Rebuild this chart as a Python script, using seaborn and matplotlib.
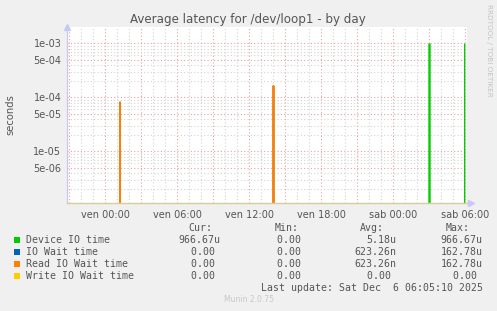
import numpy as np
import pandas as pd
import matplotlib
matplotlib.use("Agg")
import matplotlib.pyplot as plt
from matplotlib.patches import Rectangle
from matplotlib.ticker import FixedLocator, FuncFormatter
import seaborn as sns

# ---- data (hours relative to Fri 00:00, values in seconds) ----
series_names = ["Device IO time", "IO Wait time", "Read IO Wait time", "Write IO Wait time"]
series_colors = ["#00cc00", "#0066b3", "#ff8000", "#ffcc00"]

device_hours = [-3.17, 1.17, 1.25, 1.33, 26.92, 27.0, 27.08, 27.17, 29.88, 29.97]
device_vals = [0, 0, 82e-6, 0, 0, 966.67e-6, 966.67e-6, 0, 0, 966.67e-6]

iowait_hours = [-3.17, 1.17, 1.25, 1.33, 13.96, 14.04, 14.17, 29.97]
iowait_vals = [0, 0, 79e-6, 0, 0, 162.78e-6, 0, 0]

read_hours = [-3.17, 1.17, 1.25, 1.33, 13.96, 14.04, 14.17, 29.97]
read_vals = [0, 0, 79e-6, 0, 0, 162.78e-6, 0, 0]

write_hours = [-3.17, 29.97]
write_vals = [0, 0]

tick_hours = [0, 6, 12, 18, 24, 30]
tick_labels = ["ven 00:00", "ven 06:00", "ven 12:00", "ven 18:00", "sab 00:00", "sab 06:00"]

legend_cur = ["966.67u", "0.00 ", "0.00 ", "0.00 "]
legend_min = ["0.00 ", "0.00 ", "0.00 ", "0.00 "]
legend_avg = ["5.18u", "623.26n", "623.26n", "0.00 "]
legend_max = ["966.67u", "162.78u", "162.78u", "0.00 "]

# ---- build table ----
frames = []
for name, h, v in zip(series_names,
                      [device_hours, iowait_hours, read_hours, write_hours],
                      [device_vals, iowait_vals, read_vals, write_vals]):
    frames.append(pd.DataFrame({"hours": h, "seconds": v, "series": name}))
df = pd.concat(frames, ignore_index=True)

W, H = 497, 311
def fx(x):
    return x / W
def fy(y):
    return 1 - y / H

sns.set_style("white")
plt.rcParams["font.family"] = ["DejaVu Sans"]

fig = plt.figure(figsize=(W / 100, H / 100), dpi=100, facecolor="#f0f0f0")
ax = fig.add_axes([fx(67), fy(203), fx(466.7) - fx(67), fy(27.3) - fy(203)])
ax.set_facecolor("white")

sns.lineplot(data=df, x="hours", y="seconds", hue="series", hue_order=series_names,
             palette=dict(zip(series_names, series_colors)), estimator=None, sort=False,
             legend=False, linewidth=1.0, ax=ax)
# read IO line slightly wider so it covers the identical IO wait line
for ln in ax.lines:
    if matplotlib.colors.to_hex(ln.get_color()) == "#ff8000":
        ln.set_linewidth(1.3)

ax.set_yscale("log")
ax.set_xlim(-3.167, 30.14)
ax.set_ylim(1.104e-6, 1.977e-3)

# x ticks: major every 3h (red grid), minor every hour (gray grid)
major_x = np.arange(-3, 31, 3)
ax.xaxis.set_major_locator(FixedLocator(major_x))
lab_map = dict(zip(tick_hours, tick_labels))
ax.xaxis.set_major_formatter(FuncFormatter(lambda v, p: lab_map.get(int(round(v)), "")))
ax.xaxis.set_minor_locator(FixedLocator(np.arange(-3, 31, 1)))

# y ticks: 1 and 5 per decade major, others minor
decades = [1e-6, 1e-5, 1e-4, 1e-3]
major_y = [d * m for d in decades for m in (1, 5)]
minor_y = [d * m for d in decades for m in (2, 3, 4, 6, 7, 8, 9)]
ax.yaxis.set_major_locator(FixedLocator(major_y))
ax.yaxis.set_minor_locator(FixedLocator(minor_y))
ax.yaxis.set_major_formatter(FuncFormatter(lambda v, p: "{:.0e}".format(v)))
ax.yaxis.set_minor_formatter(FuncFormatter(lambda v, p: ""))

ax.set_axisbelow(True)
ax.grid(which="major", color="#eaa0a0", linestyle=(0, (1, 2)), linewidth=0.8)
ax.grid(which="minor", color="#d4d4d4", linestyle=(0, (1, 2)), linewidth=0.8)

ax.tick_params(axis="both", which="major", direction="inout", length=4, width=0.8,
               color="#e88080", labelsize=7, labelcolor="#555555", pad=2)
ax.tick_params(axis="both", which="minor", direction="inout", length=3, width=0.8,
               color="#bbbbbb")
ax.tick_params(axis="x", which="major", pad=3)
ax.set_xlabel("")
ax.set_ylabel("")

for s in ["top", "right"]:
    ax.spines[s].set_visible(False)
ax.spines["left"].set_color("#c8c8f0")
ax.spines["left"].set_linewidth(0.9)
ax.spines["bottom"].set_color("#d8cc98")
ax.spines["bottom"].set_linewidth(1.0)

# axis arrows
ax.plot([0], [1.0], marker="^", color="#c8c8f8", markersize=4, transform=ax.transAxes,
        clip_on=False)
ax.plot([1.01], [0], marker=">", color="#c8c8f8", markersize=4, transform=ax.transAxes,
        clip_on=False)

# title & labels
fig.text(fx(248), fy(19.5), "Average latency for /dev/loop1 - by day", ha="center",
         va="center", fontsize=8.6, color="#555555")
fig.text(fx(10), fy(115), "seconds", rotation=90, ha="center", va="center",
         fontsize=7.2, color="#555555")
fig.text(fx(489), fy(4), "RRDTOOL / TOBI OETIKER", rotation=270, ha="center", va="top",
         fontsize=5.2, color="#c4c4c4")

# legend
mono = "DejaVu Sans Mono"
lfs = 7.1
tc = "#555555"
header_y = 227.7
fig.text(fx(212.3), fy(header_y), "Cur:", ha="right", va="center", family=mono, fontsize=lfs, color=tc)
fig.text(fx(298.3), fy(header_y), "Min:", ha="right", va="center", family=mono, fontsize=lfs, color=tc)
fig.text(fx(384.3), fy(header_y), "Avg:", ha="right", va="center", family=mono, fontsize=lfs, color=tc)
fig.text(fx(470.0), fy(header_y), "Max:", ha="right", va="center", family=mono, fontsize=lfs, color=tc)

rows_y = [239.7, 251.7, 263.7, 275.7]
for i, name in enumerate(series_names):
    y = rows_y[i]
    fig.add_artist(Rectangle((fx(14), fy(y + 3)), fx(6), fy(0) - fy(6), transform=fig.transFigure,
                             facecolor=series_colors[i], edgecolor="none"))
    fig.text(fx(26), fy(y), name, ha="left", va="center", family=mono, fontsize=lfs, color=tc)
    fig.text(fx(220.7), fy(y), legend_cur[i], ha="right", va="center", family=mono, fontsize=lfs, color=tc)
    fig.text(fx(306.7), fy(y), legend_min[i], ha="right", va="center", family=mono, fontsize=lfs, color=tc)
    fig.text(fx(396.7), fy(y), legend_avg[i], ha="right", va="center", family=mono, fontsize=lfs, color=tc)
    fig.text(fx(482.7), fy(y), legend_max[i], ha="right", va="center", family=mono, fontsize=lfs, color=tc)

fig.text(fx(482.7), fy(287.7), "Last update: Sat Dec  6 06:05:10 2025", ha="right", va="center",
         family=mono, fontsize=lfs, color=tc)
fig.text(fx(248.5), fy(299.7), "Munin 2.0.75", ha="center", va="center", fontsize=5.5,
         color="#c8c8c8")

fig.savefig("out.png", dpi=100, facecolor=fig.get_facecolor())
